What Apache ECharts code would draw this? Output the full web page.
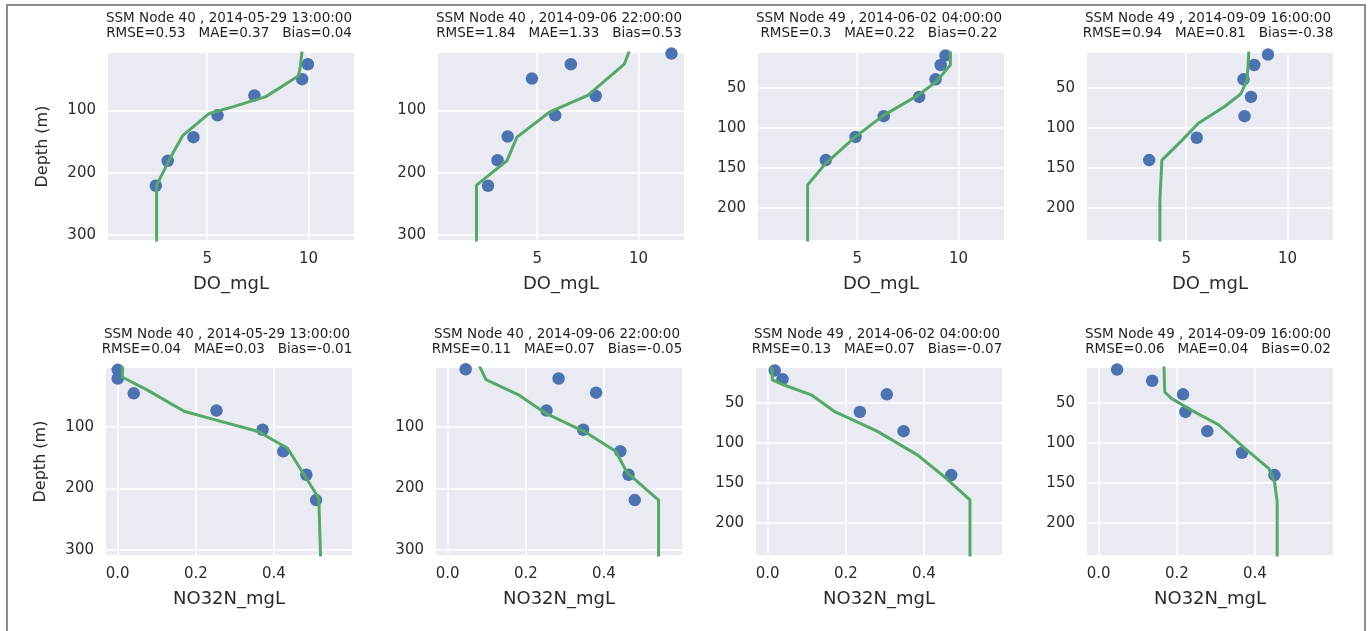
<!DOCTYPE html>
<html><head><meta charset="utf-8">
<script src="https://cdn.jsdelivr.net/npm/echarts@6/dist/echarts.min.js"></script>
<style>html,body{margin:0;padding:0;background:#fff}#c{width:1371px;height:631px}</style>
</head><body><div id="c"></div>
<script>
// ---------- titles ----------
const titleLines = ['SSM Node 40 , 2014-05-29 13:00:00', 'SSM Node 40 , 2014-09-06 22:00:00', 'SSM Node 49 , 2014-06-02 04:00:00', 'SSM Node 49 , 2014-09-09 16:00:00'];
const statsDO = ['RMSE=0.53   MAE=0.37   Bias=0.04', 'RMSE=1.84   MAE=1.33   Bias=0.53', 'RMSE=0.3   MAE=0.22   Bias=0.22', 'RMSE=0.94   MAE=0.81   Bias=-0.38'];
const statsNO3 = ['RMSE=0.04   MAE=0.03   Bias=-0.01', 'RMSE=0.11   MAE=0.07   Bias=-0.05', 'RMSE=0.13   MAE=0.07   Bias=-0.07', 'RMSE=0.06   MAE=0.04   Bias=0.02'];
const xNames = ['DO_mgL', 'NO32N_mgL'];
const yName = 'Depth (m)';

// ---------- tick labels ----------
const doTicks = [5, 10];
const no3Ticks = [0.0, 0.2, 0.4];
const depthTicksDeep = [100, 200, 300];
const depthTicksShallow = [50, 100, 150, 200];

// ---------- observed (dots) ----------
const doObs1 = [9.97, 9.69, 7.33, 5.51, 4.32, 3.05, 2.46];
const doObsDepth1 = [26, 50, 76, 108, 143, 181, 221];
const doObs2 = [11.63, 6.66, 4.74, 7.89, 5.89, 3.54, 3.04, 2.57];
const doObsDepth2 = [9, 26, 49, 77, 108, 142, 180, 221];
const doObs3 = [9.36, 9.12, 8.87, 8.06, 6.31, 4.92, 3.45];
const doObsDepth3 = [9, 21, 39, 61, 85, 111, 140];
const doObs4 = [9.04, 8.36, 7.83, 8.2, 7.88, 5.52, 3.17];
const doObsDepth4 = [8, 21, 39, 61, 85, 112, 140];
const no3Obs1 = [0.0, 0.0, 0.041, 0.253, 0.371, 0.424, 0.483, 0.508];
const no3ObsDepth1 = [8, 22, 46, 74, 105, 140, 178, 219];
const no3Obs2 = [0.046, 0.284, 0.38, 0.253, 0.347, 0.442, 0.463, 0.479];
const no3ObsDepth2 = [7, 22, 45, 74, 105, 140, 178, 219];
const no3Obs3 = [0.018, 0.038, 0.305, 0.236, 0.348, 0.47];
const no3ObsDepth3 = [9, 20, 39, 61, 85, 140];
const no3Obs4 = [0.047, 0.137, 0.216, 0.222, 0.278, 0.367, 0.45];
const no3ObsDepth4 = [8, 22, 39, 61, 85, 112, 140];

// ---------- model (lines) ----------
const doMod1 = [9.7, 9.6, 9.5, 7.9, 6.3, 5.1, 3.8, 3.2, 2.5, 2.5];
const doModDepth1 = [0, 30, 45, 78, 94, 105, 140, 175, 220, 320];
const doMod2 = [9.6, 9.3, 7.5, 5.6, 4.0, 3.5, 2.0, 2.0];
const doModDepth2 = [0, 26, 76, 103, 143, 181, 220, 320];
const doMod3 = [9.6, 9.6, 8.9, 8.0, 6.3, 4.9, 3.45, 2.55, 2.55];
const doModDepth3 = [0, 21, 42, 59, 84, 111, 144, 171, 250];
const doMod4 = [8.1, 8.05, 8.0, 7.7, 6.9, 5.6, 4.8, 3.8, 3.7, 3.7];
const doModDepth4 = [0, 24, 40, 57, 73, 94, 115, 140, 190, 250];
const no3Mod1 = [0.012, 0.012, 0.074, 0.17, 0.25, 0.36, 0.435, 0.515, 0.52];
const no3ModDepth1 = [0, 20, 40, 75, 89, 108, 135, 216, 320];
const no3Mod2 = [0.08, 0.098, 0.18, 0.25, 0.35, 0.43, 0.46, 0.54, 0.54];
const no3ModDepth2 = [0, 24, 48, 78, 108, 140, 175, 219, 320];
const no3Mod3 = [0.01, 0.012, 0.04, 0.113, 0.173, 0.28, 0.384, 0.457, 0.518, 0.518];
const no3ModDepth3 = [0, 21, 27, 40, 61, 85, 115, 144, 171, 250];
const no3Mod4 = [0.167, 0.169, 0.186, 0.238, 0.307, 0.375, 0.436, 0.45, 0.457, 0.457];
const no3ModDepth4 = [0, 36, 44, 59, 77, 107, 132, 148, 173, 250];

// ---------- assemble ----------
const obsVals = [[doObs1, doObs2, doObs3, doObs4], [no3Obs1, no3Obs2, no3Obs3, no3Obs4]];
const obsDepths = [[doObsDepth1, doObsDepth2, doObsDepth3, doObsDepth4], [no3ObsDepth1, no3ObsDepth2, no3ObsDepth3, no3ObsDepth4]];
const modVals = [[doMod1, doMod2, doMod3, doMod4], [no3Mod1, no3Mod2, no3Mod3, no3Mod4]];
const modDepths = [[doModDepth1, doModDepth2, doModDepth3, doModDepth4], [no3ModDepth1, no3ModDepth2, no3ModDepth3, no3ModDepth4]];
const stats = [statsDO, statsNO3];

const gridLefts = [[108, 438, 758, 1087], [106, 436, 756, 1087]];
const gridTops = [53, 368];
const GW = 246, GH = 187;
const xRanges = [[0.1, 12.25], [-0.03, 0.6]];
const xTicks = [doTicks, no3Ticks];
const font = '"DejaVu Sans", sans-serif';
const txt = '#2b2b2b';

const grids = [], xAxes = [], yAxes = [], series = [], graphics = [];
graphics.push({type: 'rect', shape: {x: 7, y: 5, width: 1358, height: 660},
  style: {fill: 'none', stroke: '#8c8c8c', lineWidth: 2}, silent: true});

let idx = 0;
for (let r = 0; r < 2; r++) {
  for (let c = 0; c < 4; c++) {
    const left = gridLefts[r][c], top = gridTops[r];
    grids.push({left: left, top: top, width: GW, height: GH, show: true,
      backgroundColor: '#EAEAF2', borderWidth: 0, containLabel: false});
    const deep = c < 2;
    const yTicks = deep ? depthTicksDeep : depthTicksShallow;
    const yMin = deep ? (r === 0 ? 8 : 5) : 6;
    const yMax = deep ? 308 : 240;
    xAxes.push({type: 'value', gridIndex: idx, min: xRanges[r][0], max: xRanges[r][1],
      name: xNames[r], nameLocation: 'middle', nameGap: 35,
      nameTextStyle: {fontSize: 18, fontFamily: font, color: txt},
      axisLine: {show: false},
      axisTick: {show: false, customValues: xTicks[r]},
      axisLabel: {customValues: xTicks[r], fontSize: 15, fontFamily: font, color: txt, margin: 12,
        formatter: r === 1 ? (v => Number(v).toFixed(1)) : (v => String(v))},
      splitLine: {show: true, lineStyle: {color: '#ffffff', width: 1.5}}
    });
    yAxes.push({type: 'value', gridIndex: idx, inverse: true, min: yMin, max: yMax,
      name: c === 0 ? yName : '', nameLocation: 'middle', nameGap: 57,
      nameTextStyle: {fontSize: 16, fontFamily: font, color: txt},
      axisLine: {show: false},
      axisTick: {show: false, customValues: yTicks},
      axisLabel: {customValues: yTicks, fontSize: 15, fontFamily: font, color: txt, margin: 12},
      splitLine: {show: true, lineStyle: {color: '#ffffff', width: 1.5}}
    });
    series.push({type: 'line', xAxisIndex: idx, yAxisIndex: idx,
      data: modVals[r][c].map((v, i) => [v, modDepths[r][c][i]]),
      showSymbol: false, symbol: 'none', clip: true, silent: true, z: 3,
      lineStyle: {color: '#55A868', width: 3}});
    series.push({type: 'scatter', xAxisIndex: idx, yAxisIndex: idx,
      data: obsVals[r][c].map((v, i) => [v, obsDepths[r][c][i]]),
      symbolSize: 12.5, clip: false, silent: true, z: 2,
      itemStyle: {color: '#4C72B0', opacity: 1}});
    const cx = left + GW / 2 - 2;
    const y1 = r === 0 ? 18 : 334;
    [titleLines[c], stats[r][c]].forEach((t, k) => {
      graphics.push({type: 'text', x: cx, y: y1 + k * 15, silent: true,
        style: {text: t, fontSize: 13.5, fontFamily: font, fill: '#1e1e1e',
          align: 'center', verticalAlign: 'middle', textAlign: 'center', textVerticalAlign: 'middle'}});
    });
    idx++;
  }
}

const chart = echarts.init(document.getElementById('c'), null, {renderer: 'canvas'});
chart.setOption({
  animation: false,
  backgroundColor: '#ffffff',
  grid: grids, xAxis: xAxes, yAxis: yAxes, series: series,
  graphic: {elements: graphics}
});
</script>
</body></html>
